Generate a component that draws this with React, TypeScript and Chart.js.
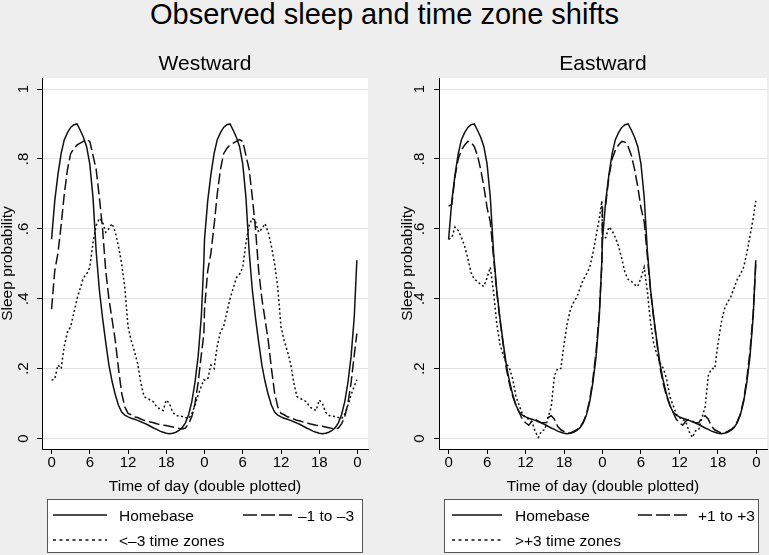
import React, { useEffect, useRef } from "react";
import { Chart, registerables } from "chart.js";

Chart.register(...registerables);

const FONT = '"Liberation Sans", Arial, Helvetica, sans-serif';

// One day of data (hours); the chart is double plotted (day repeated at +24h)
const HOURS = [0, 0.5, 1, 1.5, 2, 2.5, 3, 3.5, 4, 4.5, 5, 5.5, 6, 6.5, 7, 7.5, 8, 8.5, 9, 9.5, 10, 10.5, 11, 11.5, 12, 12.5, 13, 13.5, 14, 14.5, 15, 15.5, 16, 16.5, 17, 17.5, 18, 18.5, 19, 19.5, 20, 20.5, 21, 21.5, 22, 22.5, 23, 23.5, 23.9];
const DAY_OFFSETS = [0, 24];

const HOMEBASE = [0.57, 0.68, 0.755, 0.815, 0.855, 0.875, 0.89, 0.898, 0.9, 0.882, 0.862, 0.835, 0.785, 0.69, 0.535, 0.425, 0.345, 0.275, 0.21, 0.163, 0.125, 0.095, 0.076, 0.067, 0.062, 0.058, 0.055, 0.052, 0.048, 0.044, 0.04, 0.035, 0.03, 0.026, 0.021, 0.018, 0.015, 0.014, 0.015, 0.018, 0.023, 0.031, 0.045, 0.068, 0.105, 0.16, 0.235, 0.35, 0.51];

const WEST_1_TO_3 = [0.37, 0.48, 0.53, 0.61, 0.7, 0.77, 0.815, 0.83, 0.84, 0.845, 0.85, 0.855, 0.85, 0.81, 0.77, 0.69, 0.6, 0.48, 0.4, 0.34, 0.28, 0.2, 0.13, 0.09, 0.072, 0.068, 0.062, 0.06, 0.056, 0.052, 0.05, 0.047, 0.045, 0.042, 0.04, 0.038, 0.037, 0.035, 0.033, 0.031, 0.029, 0.027, 0.03, 0.042, 0.062, 0.1, 0.16, 0.24, 0.3];

const WEST_OVER_3 = [0.167, 0.17, 0.21, 0.2, 0.265, 0.305, 0.32, 0.36, 0.4, 0.43, 0.46, 0.47, 0.49, 0.56, 0.61, 0.63, 0.62, 0.59, 0.6, 0.615, 0.59, 0.55, 0.5, 0.43, 0.32, 0.28, 0.25, 0.215, 0.16, 0.12, 0.115, 0.11, 0.105, 0.09, 0.085, 0.08, 0.11, 0.1, 0.075, 0.066, 0.064, 0.063, 0.06, 0.057, 0.07, 0.095, 0.125, 0.15, 0.168];

const EAST_1_TO_3 = [0.665, 0.67, 0.75, 0.8, 0.825, 0.84, 0.85, 0.848, 0.835, 0.81, 0.77, 0.72, 0.66, 0.62, 0.52, 0.42, 0.34, 0.27, 0.2, 0.155, 0.12, 0.095, 0.075, 0.055, 0.045, 0.038, 0.05, 0.055, 0.05, 0.045, 0.045, 0.06, 0.065, 0.055, 0.035, 0.025, 0.02, 0.016, 0.016, 0.02, 0.025, 0.033, 0.048, 0.07, 0.11, 0.17, 0.25, 0.36, 0.5];

const EAST_OVER_3 = [0.57, 0.575, 0.605, 0.595, 0.575, 0.55, 0.515, 0.475, 0.455, 0.45, 0.44, 0.435, 0.46, 0.49, 0.42, 0.33, 0.27, 0.24, 0.215, 0.2, 0.17, 0.12, 0.095, 0.07, 0.06, 0.055, 0.048, 0.02, 0.003, 0.022, 0.025, 0.06, 0.09, 0.18, 0.2, 0.2, 0.27, 0.33, 0.37, 0.39, 0.405, 0.43, 0.455, 0.47, 0.49, 0.53, 0.58, 0.63, 0.68];

const X_TICKS = [0, 6, 12, 18, 24, 30, 36, 42, 48];
const X_TICK_LABELS = ["0", "6", "12", "18", "0", "6", "12", "18", "0"];
const Y_TICKS = [0, 0.2, 0.4, 0.6, 0.8, 1];
const Y_TICK_LABELS = ["0", ".2", ".4", ".6", ".8", "1"];

const X_MIN = -1.5;
const X_MAX = 49.65;
const Y_MIN = -0.03;
const Y_MAX = 1.0315;

const DASH = [11, 4];
const DOT = [2, 2.5];

function doublePlot(values: number[]) {
  return DAY_OFFSETS.flatMap((off) => HOURS.map((h, i) => ({ x: h + off, y: values[i] })));
}

type PanelCfg = {
  left: number;
  width: number;
  yWidth: number;
  padRight: number;
  title: string;
  yLabelX: number;
  yTitleBaseX: number;
  legendBox: [number, number, number, number];
  solidSeg: [number, number];
  dashSeg: [number, number];
  label1X: number;
  label2X: number;
  labels: [string, string, string];
  series: [number[], number[], number[]];
};

const PANELS: PanelCfg[] = [
  {
    left: 0,
    width: 384,
    yWidth: 42,
    padRight: 16,
    title: "Westward",
    yLabelX: 22.5,
    yTitleBaseX: 12,
    legendBox: [47, 499, 315, 53],
    solidSeg: [53, 107],
    dashSeg: [243, 292],
    label1X: 119,
    label2X: 298,
    labels: ["Homebase", "\u20131 to \u20133", "<\u20133 time zones"],
    series: [HOMEBASE, WEST_1_TO_3, WEST_OVER_3],
  },
  {
    left: 384,
    width: 385,
    yWidth: 55,
    padRight: 2,
    title: "Eastward",
    yLabelX: 35,
    yTitleBaseX: 28,
    legendBox: [60, 499, 314, 53],
    solidSeg: [68, 118],
    dashSeg: [254, 303],
    label1X: 131,
    label2X: 314,
    labels: ["Homebase", "+1 to +3", ">+3 time zones"],
    series: [HOMEBASE, EAST_1_TO_3, EAST_OVER_3],
  },
];

function Panel({ cfg }: { cfg: PanelCfg }) {
  const ref = useRef<HTMLCanvasElement>(null);

  useEffect(() => {
    const canvas = ref.current!;
    const decor = {
      id: "decor",
      beforeDraw(chart: any) {
        const { ctx, chartArea: a } = chart;
        ctx.save();
        ctx.fillStyle = "#ffffff";
        ctx.fillRect(a.left, a.top, a.right - a.left, a.bottom - a.top);
        ctx.restore();
      },
      afterDraw(chart: any) {
        const { ctx, chartArea: a } = chart;
        const yScale = chart.scales.y;
        const cx = (a.left + a.right) / 2;
        ctx.save();
        ctx.fillStyle = "#000";
        // subtitle
        ctx.font = `21px ${FONT}`;
        ctx.textAlign = "center";
        ctx.textBaseline = "alphabetic";
        ctx.fillText(cfg.title, cx, 70);
        // y tick labels (rotated)
        ctx.font = `15px ${FONT}`;
        Y_TICKS.forEach((v, i) => {
          const y = yScale.getPixelForValue(v);
          ctx.save();
          ctx.translate(cfg.yLabelX, y);
          ctx.rotate(-Math.PI / 2);
          ctx.textAlign = "center";
          ctx.fillText(Y_TICK_LABELS[i], 0, 5.4);
          ctx.restore();
        });
        // y title
        ctx.font = `15.5px ${FONT}`;
        ctx.save();
        ctx.translate(cfg.yTitleBaseX, (a.top + a.bottom) / 2);
        ctx.rotate(-Math.PI / 2);
        ctx.textAlign = "center";
        ctx.fillText("Sleep probability", 0, 0);
        ctx.restore();
        // x title
        ctx.textAlign = "center";
        ctx.fillText("Time of day (double plotted)", cx, 491);
        // legend
        const [bx, by, bw, bh] = cfg.legendBox;
        ctx.fillStyle = "#ffffff";
        ctx.fillRect(bx, by, bw, bh);
        ctx.strokeStyle = "#555";
        ctx.lineWidth = 1;
        ctx.strokeRect(bx + 0.5, by + 0.5, bw, bh);
        const row1 = 515;
        const row2 = 540;
        ctx.strokeStyle = "#111";
        ctx.lineWidth = 1.4;
        const seg = (x0: number, x1: number, y: number, dash: number[]) => {
          ctx.setLineDash(dash);
          ctx.beginPath();
          ctx.moveTo(x0, y);
          ctx.lineTo(x1, y);
          ctx.stroke();
        };
        seg(cfg.solidSeg[0], cfg.solidSeg[1], row1, []);
        seg(cfg.dashSeg[0], cfg.dashSeg[1], row1, [14, 4]);
        seg(cfg.solidSeg[0], cfg.solidSeg[1], row2, [3, 3.5]);
        ctx.setLineDash([]);
        ctx.fillStyle = "#000";
        ctx.font = `15.5px ${FONT}`;
        ctx.textAlign = "left";
        ctx.fillText(cfg.labels[0], cfg.label1X, row1 + 5.5);
        ctx.fillText(cfg.labels[1], cfg.label2X, row1 + 5.5);
        ctx.fillText(cfg.labels[2], cfg.label1X, row2 + 5.5);
        ctx.restore();
      },
    };

    const mk = (values: number[], dash: number[]) => ({
      data: doublePlot(values),
      borderColor: "#111",
      borderWidth: 1.5,
      borderDash: dash,
      pointRadius: 0,
      tension: 0,
      fill: false,
    });

    const chart = new Chart(canvas, {
      type: "line",
      data: {
        datasets: [mk(cfg.series[0], []), mk(cfg.series[1], DASH), mk(cfg.series[2], DOT)],
      },
      options: {
        responsive: false,
        animation: false,
        devicePixelRatio: 1,
        layout: { padding: { left: 0, right: cfg.padRight, top: 78, bottom: 0 } },
        plugins: {
          legend: { display: false },
          title: { display: false },
          tooltip: { enabled: false },
        },
        scales: {
          x: {
            type: "linear",
            min: X_MIN,
            max: X_MAX,
            afterBuildTicks: (s: any) => {
              s.ticks = X_TICKS.map((v) => ({ value: v }));
            },
            afterFit: (s: any) => {
              s.height = 106;
            },
            ticks: {
              autoSkip: false,
              maxRotation: 0,
              minRotation: 0,
              padding: 0,
              color: "#000",
              font: { family: FONT, size: 15 },
              callback: (_v: any, i: number) => X_TICK_LABELS[i],
            },
            grid: { drawOnChartArea: false, drawTicks: true, tickLength: 5, tickColor: "#000", tickWidth: 1 },
            border: { display: true, color: "#000", width: 1 },
          },
          y: {
            type: "linear",
            min: Y_MIN,
            max: Y_MAX,
            afterBuildTicks: (s: any) => {
              s.ticks = Y_TICKS.map((v) => ({ value: v }));
            },
            afterFit: (s: any) => {
              s.width = cfg.yWidth;
            },
            ticks: { display: false },
            grid: { color: "#e2e2e2", lineWidth: 1, drawTicks: true, tickLength: 5, tickColor: "#000", tickWidth: 1 },
            border: { display: true, color: "#000", width: 1 },
          },
        },
      },
      plugins: [decor],
    } as any);
    return () => chart.destroy();
  }, []);

  return (
    <canvas
      ref={ref}
      width={cfg.width}
      height={555}
      style={{ position: "absolute", left: cfg.left, top: 0, width: cfg.width, height: 555 }}
    />
  );
}

export default function App() {
  return (
    <div
      style={{
        position: "absolute",
        left: 0,
        top: 0,
        width: 769,
        height: 555,
        background: "#eeeeee",
        overflow: "hidden",
      }}
    >
      <div
        style={{
          position: "absolute",
          left: 0,
          top: 0,
          width: 769,
          textAlign: "center",
          fontFamily: FONT,
          fontSize: 29,
          lineHeight: "29px",
          color: "#000",
        }}
      >
        Observed sleep and time zone shifts
      </div>
      {PANELS.map((p) => (
        <Panel key={p.title} cfg={p} />
      ))}
    </div>
  );
}
